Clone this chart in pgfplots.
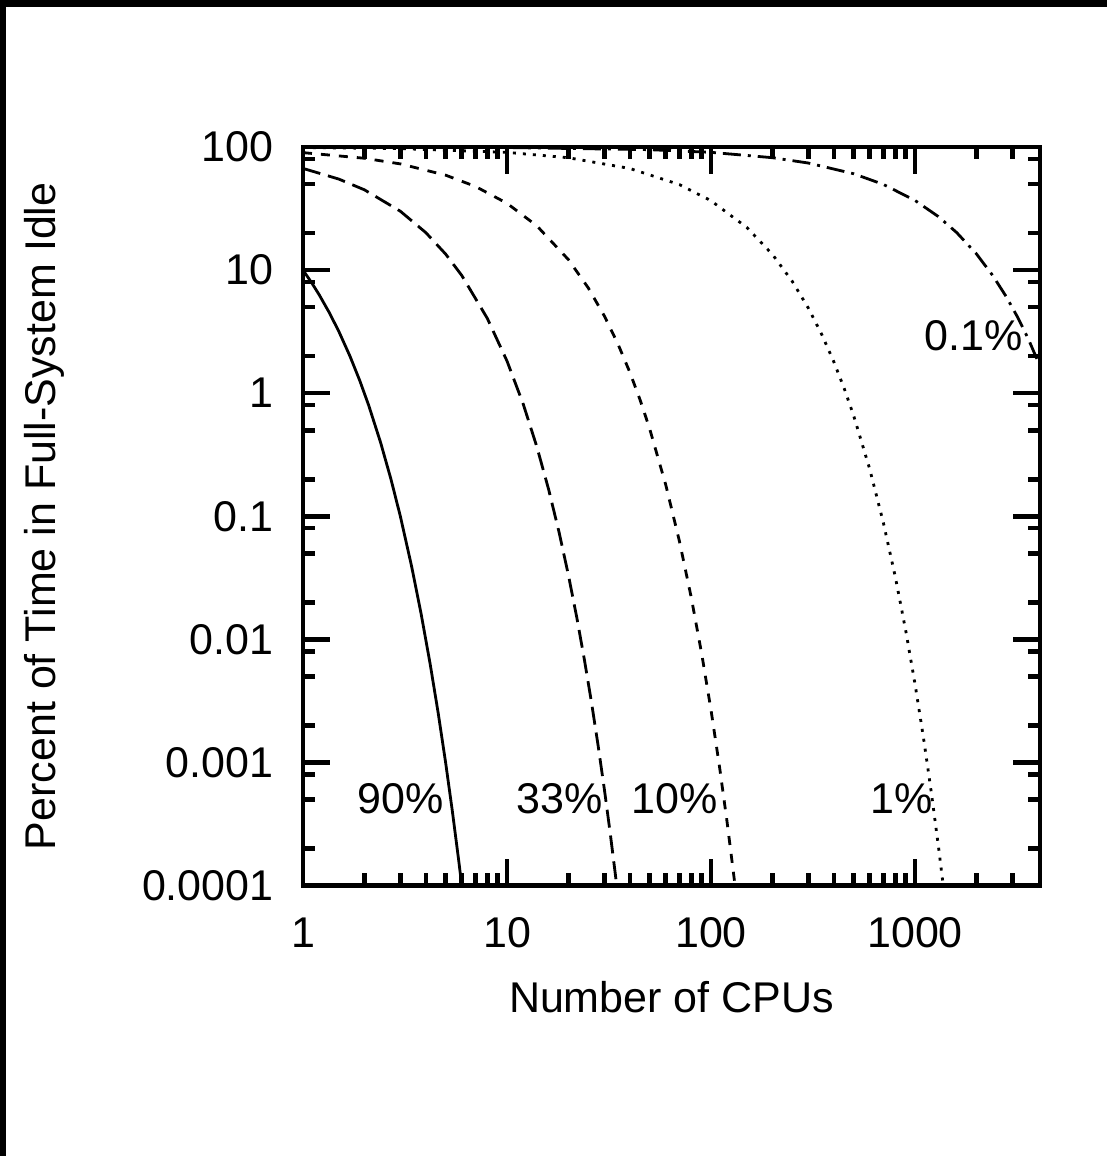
\documentclass[border=0pt]{standalone}
\usepackage{fontspec}
\setmainfont{Liberation Sans}
\usepackage{pgfplots}
\pgfplotsset{compat=1.18}

% curve styles (gnuplot-like dash types)
\tikzset{
  c90/.style={black, line width=1.4pt, solid},
  c33/.style={black, line width=1.4pt, dash pattern=on 9pt off 4pt},
  c10/.style={black, line width=1.4pt, dash pattern=on 4.5pt off 4.5pt},
  c1/.style={black, line width=1.4pt, dash pattern=on 1.5pt off 3.5pt},
  c01/.style={black, line width=1.4pt, dash pattern=on 9pt off 3.5pt on 1.5pt off 3.5pt},
}
\newcommand{\lbl}{\fontsize{21.5}{25}\selectfont}

\begin{document}
\begin{tikzpicture}
  % page and the dark strips on top and left
  \fill[white] (0,0) rectangle (553.5pt,578pt);
  \fill[black] (0,574.5pt) rectangle (553.5pt,578pt);
  \fill[black] (0,0) rectangle (3pt,578pt);

  \begin{axis}[
      at={(151.5pt,135.25pt)}, anchor=south west,
      scale only axis, width=368.5pt, height=369.25pt,
      xmode=log, ymode=log,
      xmin=1, xmax=4096, ymin=0.0001, ymax=100,
      xtick={1,10,100,1000},
      xticklabels={1,10,100,1000},
      ytick={0.0001,0.001,0.01,0.1,1,10,100},
      yticklabels={0.0001,0.001,0.01,0.1,1,10,100},
      minor xtick={2,3,4,5,6,7,8,9,20,30,40,50,60,70,80,90,
                   200,300,400,500,600,700,800,900,2000,3000},
      minor ytick={0.0002,0.0005,0.0008,0.002,0.005,0.008,0.02,0.05,0.08,
                   0.2,0.5,0.8,2,5,8,20,50,80},
      tick align=inside,
      xtick pos=both, ytick pos=both,
      major tick length=13.5pt, minor tick length=6.25pt,
      every tick/.style={black, line width=2.3pt},
      axis line style={line width=2.3pt},
      tick label style={font=\lbl},
      xticklabel style={anchor=north, inner sep=0pt, yshift=-16pt},
      yticklabel style={anchor=east, inner sep=0pt, xshift=-14.5pt},
      xlabel={Number of CPUs},
      ylabel={Percent of Time in Full-System Idle},
      label style={font=\lbl},
      xlabel style={at={(axis description cs:0.5,0)}, anchor=base, inner sep=0pt, yshift=-63.25pt},
      ylabel style={at={(axis description cs:0,0.5)}, anchor=base, inner sep=0pt, yshift=123.5pt},
    ]

    % 90%
    \addplot[c90] coordinates {
      (1,10) (1.1,7.943) (1.2,6.310) (1.35,4.467) (1.5,3.162) (1.7,1.995)
      (1.9,1.259) (2.1,0.7943) (2.4,0.3981) (2.7,0.1995) (3,0.1)
      (3.4,0.03981) (3.8,0.01585) (4.2,0.00631) (4.6,0.002512) (5,0.001)
      (5.4,0.0003981) (5.8,0.0001585) (6,0.0001)
    };
    % 33%
    \addplot[c33] coordinates {
      (1,67.0) (1.5,54.83) (2,44.89) (3,30.08) (4,20.15) (5,13.50) (6,9.045)
      (8,4.061) (10,1.823) (12,0.8180) (14,0.3672) (16,0.1648) (18,0.07398)
      (20,0.03321) (22,0.01491) (24,0.006693) (26,0.003004) (28,0.001349)
      (30,0.0006054) (32,0.0002718) (34.5,0.0001)
    };
    % 10%
    \addplot[c10] coordinates {
      (1,90) (2,81) (3,72.9) (5,59.05) (7,47.83) (10,34.87) (14,22.88)
      (20,12.16) (25,7.179) (30,4.239) (35,2.503) (40,1.478) (45,0.8728)
      (50,0.5154) (60,0.1797) (70,0.06266) (80,0.02185) (90,0.007618)
      (100,0.002656) (110,0.0009262) (120,0.0003229) (131,0.0001013)
    };
    % 1%
    \addplot[c1] coordinates {
      (1,99) (3,97.03) (10,90.44) (20,81.79) (40,66.90) (70,49.49)
      (100,36.60) (150,22.15) (200,13.40) (250,8.106) (300,4.904)
      (350,2.967) (400,1.795) (450,1.086) (500,0.6570) (600,0.2405)
      (700,0.08804) (800,0.03223) (900,0.01179) (1000,0.004317)
      (1100,0.00158) (1200,0.0005784) (1300,0.0002117) (1375,0.0000996)
    };
    % 0.1%
    \addplot[c01] coordinates {
      (1,99.9) (10,99.0) (50,95.12) (100,90.48) (200,81.86) (300,74.07)
      (500,60.63) (700,49.64) (1000,36.77) (1300,27.23) (1600,20.17)
      (2000,13.52) (2400,9.061) (2800,6.072) (3200,4.071) (3600,2.728)
      (4096,1.661)
    };

    \node[font=\lbl, anchor=east, inner sep=0pt] at (axis cs:4.91,0.000505) {90\%};
    \node[font=\lbl, anchor=east, inner sep=0pt] at (axis cs:29.55,0.000505) {33\%};
    \node[font=\lbl, anchor=east, inner sep=0pt] at (axis cs:108.2,0.000505) {10\%};
    \node[font=\lbl, anchor=east, inner sep=0pt] at (axis cs:1225,0.000505) {1\%};
    \node[font=\lbl, anchor=east, inner sep=0pt] at (axis cs:3383,2.915) {0.1\%};
  \end{axis}
\end{tikzpicture}
\end{document}
